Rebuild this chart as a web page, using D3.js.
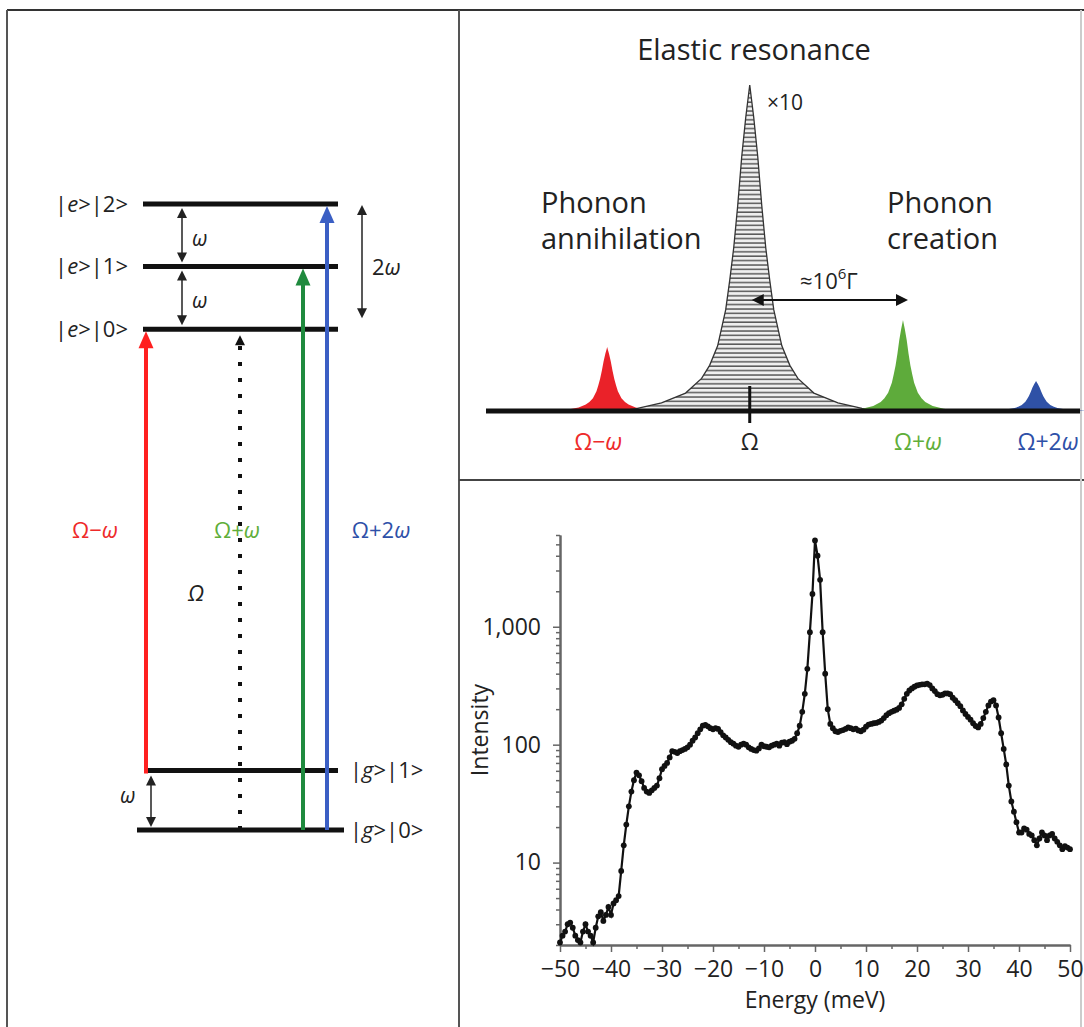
<!DOCTYPE html>
<html>
<head>
<meta charset="utf-8">
<script src="https://cdn.jsdelivr.net/npm/d3@7"></script>
<style>
  body { margin: 0; background: #fff; }
  text { font-family: "Open Sans", sans-serif; fill: #222; }
</style>
</head>
<body>
<svg id="fig" width="1084" height="1027"></svg>
<script>
// ---------- data ----------
// left panel: energy levels, in units of omega (Omega drawn as 8 omega)
const levelNames = ["|g>|0>", "|g>|1>", "|e>|0>", "|e>|1>", "|e>|2>"];
const levelEnergy = [0, 0.95, 8, 9, 10];

// optical transitions (index into levels)
const transFrom = [1, 0, 0, 0];
const transTo = [2, 2, 3, 4];
const transLabel = ["Ω−ω", "Ω", "Ω+ω", "Ω+2ω"];

// top panel: schematic spectrum
const peakLabels = ["Ω−ω", "Ω", "Ω+ω", "Ω+2ω"];
const peakPos = [20.4, 44.4, 70.2, 92.6];
const peakHeight = [19.6, 100, 27.9, 9.2];
const peakWidth = [1.2, 2.7, 1.25, 1.2];
// line shape (offset in widths, relative height)
const profileU = [0, 0.1, 0.25, 0.5, 0.75, 1, 1.25, 1.5, 2, 2.5, 3, 4, 5.5, 7, 8];
const profileLevel = [1, 0.96, 0.9, 0.78, 0.63, 0.5, 0.4, 0.31, 0.2, 0.14, 0.1, 0.055, 0.025, 0.008, 0];

// bottom panel: measured spectrum, 0.5 meV steps from -50 to 50
const energy = d3.range(-50, 50.01, 0.5);
const intensity = [
  2.1, 2.4, 2.6, 3.0, 3.1, 2.8, 2.4, 2.2, 2.1, 2.6,
  3.0, 2.6, 2.4, 2.1, 2.8, 3.5, 3.8, 3.2, 3.6, 4.2,
  3.6, 4.5, 4.8, 5.2, 8.5, 14, 21, 30, 40, 50,
  58, 55, 49, 43, 40, 39, 41, 43, 45, 52,
  62, 66, 70, 78, 88, 87, 85, 88, 90, 92,
  95, 100, 108, 115, 125, 135, 145, 147, 143, 138,
  135, 138, 136, 128, 120, 115, 110, 105, 102, 98,
  96, 100, 102, 100, 95, 92, 90, 89, 93, 100,
  97, 96, 95, 98, 100, 102, 98, 104, 105, 101,
  106, 108, 112, 125, 145, 190, 270, 440, 900, 1900,
  5400, 4000, 2500, 900, 400, 200, 150, 138, 130, 128,
  131, 133, 136, 140, 138, 135, 137, 132, 130, 134,
  142, 148, 150, 152, 153, 156, 160, 168, 178, 185,
  190, 194, 198, 205, 220, 245, 270, 288, 300, 310,
  318, 322, 325, 325, 330, 320, 300, 285, 268, 262,
  265, 272, 272, 268, 250, 238, 225, 212, 195, 182,
  172, 163, 152, 144, 140, 150, 168, 190, 215, 232,
  238, 215, 170, 125, 92, 68, 45, 33, 27, 22,
  18, 18, 19.5, 19, 17.5, 17, 15.5, 14, 16, 18,
  17, 15.5, 17, 17.5, 16, 15, 14, 13, 13.8, 13.4,
  13
];
const yMajor = [10, 100, 1000];

// ---------- drawing ----------
const svg = d3.select("#fig");

const defs = svg.append("defs");
const hatch = defs.append("pattern")
    .attr("id", "hatch")
    .attr("patternUnits", "userSpaceOnUse")
    .attr("width", 8).attr("height", 4.4);
hatch.append("rect").attr("width", 8).attr("height", 4.4).attr("fill", "#efefef");
hatch.append("line").attr("x1", 0).attr("x2", 8).attr("y1", 1).attr("y2", 1)
    .attr("stroke", "#5a5a5a").attr("stroke-width", 1.5);

// frame
const frame = svg.append("g").attr("fill", "none").attr("stroke-width", 2);
frame.append("line").attr("x1", 7).attr("x2", 1084).attr("y1", 10).attr("y2", 10).attr("stroke", "#333");
frame.append("line").attr("x1", 7).attr("x2", 7).attr("y1", 10).attr("y2", 1027).attr("stroke", "#555");
frame.append("line").attr("x1", 459).attr("x2", 459).attr("y1", 10).attr("y2", 1027).attr("stroke", "#555");
frame.append("line").attr("x1", 459).attr("x2", 1084).attr("y1", 480).attr("y2", 480).attr("stroke", "#444");
frame.append("line").attr("x1", 1081).attr("x2", 1081).attr("y1", 10).attr("y2", 1027).attr("stroke", "#ccc");

// vertical arrow helper
function vArrow(g, x, yFrom, yTo, color, w, headW, headL) {
    var dir = yTo < yFrom ? 1 : -1;
    g.append("line")
        .attr("x1", x).attr("x2", x)
        .attr("y1", yFrom).attr("y2", yTo + dir * headL * 0.8)
        .attr("stroke", color).attr("stroke-width", w);
    g.append("path")
        .attr("d", "M" + x + "," + yTo + "L" + (x - headW / 2) + "," + (yTo + dir * headL) +
            "L" + (x + headW / 2) + "," + (yTo + dir * headL) + "Z")
        .attr("fill", color);
}
function dArrow(g, x, y1, y2) {
    g.append("line").attr("x1", x).attr("x2", x).attr("y1", y1 + 8).attr("y2", y2 - 8)
        .attr("stroke", "#222").attr("stroke-width", 1.5);
    g.append("path").attr("d", "M" + x + "," + y1 + "l-5,10h10z").attr("fill", "#222");
    g.append("path").attr("d", "M" + x + "," + y2 + "l-5,-10h10z").attr("fill", "#222");
}
function italicOmega(t, s, color) {
    // writes s, with every ω in italic
    s.split("").forEach(function (c) {
        t.append("tspan").text(c)
            .style("font-style", c === "ω" ? "italic" : "normal")
            .style("fill", color);
    });
}

// ===== left: level diagram =====
const left = svg.append("g");
const yL = d3.scaleLinear().domain([0, 10]).range([830, 204]);
const levelX1 = [137, 145, 143, 143, 143];
const levelX2 = [344, 338, 338, 338, 338];

left.selectAll(".lvl")
    .data(levelEnergy)
    .enter()
    .append("line")
    .attr("x1", function (d, i) { return levelX1[i]; })
    .attr("x2", function (d, i) { return levelX2[i]; })
    .attr("y1", function (d) { return yL(d); })
    .attr("y2", function (d) { return yL(d); })
    .attr("stroke", "#111")
    .attr("stroke-width", 5);

levelNames.forEach(function (name, i) {
    var isG = name[1] === "g";
    var t = left.append("text")
        .attr("x", isG ? 350 : 128)
        .attr("y", yL(levelEnergy[i]))
        .attr("dy", "0.35em")
        .attr("text-anchor", isG ? "start" : "end")
        .style("font-size", "22px");
    t.append("tspan").text("|");
    t.append("tspan").text(name[1]).style("font-style", "italic");
    t.append("tspan").text(name.slice(2));
});

// transitions
const transX = [146, 240, 303, 327];
const transColor = ["#ff2020", "#111", "#1f8a3e", "#3b5fc4"];
transFrom.forEach(function (f, i) {
    var y0 = yL(levelEnergy[f]) + (f === 1 ? 3 : 0);
    var y1 = yL(levelEnergy[transTo[i]]) + 2;
    if (i === 1) {
        left.append("line")
            .attr("x1", transX[i]).attr("x2", transX[i])
            .attr("y1", y0).attr("y2", y1 + 14)
            .attr("stroke", "#111").attr("stroke-width", 4)
            .attr("stroke-dasharray", "4,12");
        left.append("path")
            .attr("d", "M" + transX[i] + "," + (y1 + 4) + "l-5,10h10z")
            .attr("fill", "#111");
    } else {
        vArrow(left, transX[i], y0, y1, transColor[i], 4, 15, 17);
    }
});

const labelX = [95, 196, 237, 381];
const labelY = [530, 593, 530, 530];
const labelColor = ["#ee2a2a", "#222", "#5fae3a", "#2e50a8"];
transLabel.forEach(function (s, i) {
    var t = left.append("text")
        .attr("x", labelX[i]).attr("y", labelY[i])
        .attr("dy", "0.35em")
        .attr("text-anchor", "middle")
        .style("font-size", "22px");
    if (s === "Ω") {
        t.append("tspan").text(s).style("font-style", "italic").style("fill", labelColor[i]);
    } else {
        italicOmega(t, s, labelColor[i]);
    }
});

// spacing arrows
dArrow(left, 182, yL(levelEnergy[4]) + 4, yL(levelEnergy[3]) - 4);
dArrow(left, 182, yL(levelEnergy[3]) + 4, yL(levelEnergy[2]) - 4);
dArrow(left, 362, yL(levelEnergy[4]) + 1, yL(levelEnergy[2]) - 11);
dArrow(left, 151, yL(levelEnergy[1]) + 5, yL(levelEnergy[0]) - 3);

left.append("text").attr("x", 192).attr("y", yL(9.5)).attr("dy", "0.5em")
    .style("font-size", "21px").style("font-style", "italic").text("ω");
left.append("text").attr("x", 192).attr("y", yL(8.5)).attr("dy", "0.5em")
    .style("font-size", "21px").style("font-style", "italic").text("ω");
left.append("text").attr("x", 120).attr("y", yL(0.5)).attr("dy", "0.2em")
    .style("font-size", "21px").style("font-style", "italic").text("ω");
var t2 = left.append("text").attr("x", 372).attr("y", yL(9)).attr("dy", "0.4em")
    .style("font-size", "22px");
t2.append("tspan").text("2");
t2.append("tspan").text("ω").style("font-style", "italic");

// ===== top right: schematic spectrum =====
const topPanel = svg.append("g");
const xT = d3.scaleLinear().domain([0, 100]).range([486, 1080]);
const yT = d3.scaleLinear().domain([0, 100]).range([411, 85]);

const peakColor = ["#ea2229", "url(#hatch)", "#5eab3b", "#2f51a6"];
const area = d3.area()
    .x(function (d) { return xT(d[0]); })
    .y0(yT(0))
    .y1(function (d) { return yT(d[1]); });

peakPos.forEach(function (p, i) {
    var pts = [];
    for (var k = profileU.length - 1; k > 0; k--) {
        pts.push([p - profileU[k] * peakWidth[i], peakHeight[i] * profileLevel[k]]);
    }
    for (var k = 0; k < profileU.length; k++) {
        pts.push([p + profileU[k] * peakWidth[i], peakHeight[i] * profileLevel[k]]);
    }
    topPanel.append("path")
        .datum(pts)
        .attr("d", area)
        .attr("fill", peakColor[i])
        .attr("stroke", i === 1 ? "#333" : "none")
        .attr("stroke-width", 1.3);
});

topPanel.append("line")
    .attr("x1", xT(0)).attr("x2", xT(100))
    .attr("y1", yT(0)).attr("y2", yT(0))
    .attr("stroke", "#111").attr("stroke-width", 5);
topPanel.append("line")
    .attr("x1", xT(peakPos[1])).attr("x2", xT(peakPos[1]))
    .attr("y1", yT(0) - 25).attr("y2", yT(0) + 12)
    .attr("stroke", "#111").attr("stroke-width", 3);

const peakLabelShift = [-9, 0, 15, 12];
peakLabels.forEach(function (s, i) {
    var t = topPanel.append("text")
        .attr("x", xT(peakPos[i]) + peakLabelShift[i])
        .attr("y", 450)
        .attr("text-anchor", "middle")
        .style("font-size", "23px");
    italicOmega(t, s, labelColor[i]);
});

// double arrow between elastic and creation peak
const ya = 300, xa1 = xT(peakPos[1]) + 2, xa2 = xT(peakPos[2]) + 5;
topPanel.append("line").attr("x1", xa1 + 10).attr("x2", xa2 - 10).attr("y1", ya).attr("y2", ya)
    .attr("stroke", "#111").attr("stroke-width", 2);
topPanel.append("path").attr("d", "M" + xa1 + "," + ya + "l12,-6v12z").attr("fill", "#111");
topPanel.append("path").attr("d", "M" + xa2 + "," + ya + "l-12,-6v12z").attr("fill", "#111");
var tg = topPanel.append("text").attr("x", 800).attr("y", 289).style("font-size", "22px");
tg.append("tspan").text("≈10");
tg.append("tspan").text("6").attr("dy", -10).style("font-size", "15px");
tg.append("tspan").text("Γ").attr("dy", 10);

topPanel.append("text").attr("x", 754).attr("y", 60).attr("text-anchor", "middle")
    .style("font-size", "29px").text("Elastic resonance");
topPanel.append("text").attr("x", 767).attr("y", 110)
    .style("font-size", "21px").text("×10");
topPanel.append("text").attr("x", 541).attr("y", 213).style("font-size", "29px").text("Phonon");
topPanel.append("text").attr("x", 541).attr("y", 249).style("font-size", "29px").text("annihilation");
topPanel.append("text").attr("x", 887).attr("y", 213).style("font-size", "29px").text("Phonon");
topPanel.append("text").attr("x", 887).attr("y", 249).style("font-size", "29px").text("creation");

// ===== bottom right: measured spectrum =====
const bot = svg.append("g");
const xB = d3.scaleLinear().domain([-50, 50]).range([560, 1070]);
const yB = d3.scaleLog().domain([2, 6000]).range([945, 535]);

var minorY = [];
[1, 10, 100, 1000].forEach(function (dec) {
    for (var m = 2; m <= 9; m++) {
        var v = m * dec;
        if (v >= 2 && v <= 6000) minorY.push(v);
    }
});

bot.append("g")
    .attr("transform", "translate(0,945)")
    .call(d3.axisBottom(xB).tickValues(d3.range(-45, 50, 10)).tickSize(4).tickSizeOuter(0).tickFormat(""));
bot.append("g")
    .attr("transform", "translate(0,945)")
    .call(d3.axisBottom(xB).tickValues(d3.range(-50, 51, 10)).tickSize(7).tickSizeOuter(0).tickPadding(9));
bot.append("g")
    .attr("transform", "translate(560,0)")
    .call(d3.axisLeft(yB).tickValues(minorY).tickSize(4).tickSizeOuter(0).tickFormat(""));
bot.append("g")
    .attr("transform", "translate(560,0)")
    .call(d3.axisLeft(yB).tickValues(yMajor).tickSize(7).tickSizeOuter(0).tickPadding(12)
        .tickFormat(d3.format(",")));

bot.selectAll(".domain").attr("stroke", "#666").attr("stroke-width", 2);
bot.selectAll(".tick line").attr("stroke", "#666").attr("stroke-width", 1.5);
bot.selectAll(".tick text")
    .style("font-family", "'Open Sans', sans-serif")
    .style("font-size", "23px")
    .style("fill", "#222");

const spec = energy.map(function (e, i) { return [e, intensity[i]]; });
bot.append("path")
    .datum(spec)
    .attr("fill", "none")
    .attr("stroke", "#111")
    .attr("stroke-width", 2.2)
    .attr("d", d3.line()
        .x(function (d) { return xB(d[0]); })
        .y(function (d) { return yB(Math.max(d[1], 2)); }));
bot.selectAll(".pt")
    .data(spec)
    .enter()
    .append("circle")
    .attr("cx", function (d) { return xB(d[0]); })
    .attr("cy", function (d) { return yB(Math.max(d[1], 2)); })
    .attr("r", 2.9)
    .attr("fill", "#111");

bot.append("text")
    .attr("transform", "translate(488,730) rotate(-90)")
    .attr("text-anchor", "middle")
    .style("font-size", "23px")
    .text("Intensity");
bot.append("text")
    .attr("x", 815).attr("y", 1008)
    .attr("text-anchor", "middle")
    .style("font-size", "23px")
    .text("Energy (meV)");
</script>
</body>
</html>
